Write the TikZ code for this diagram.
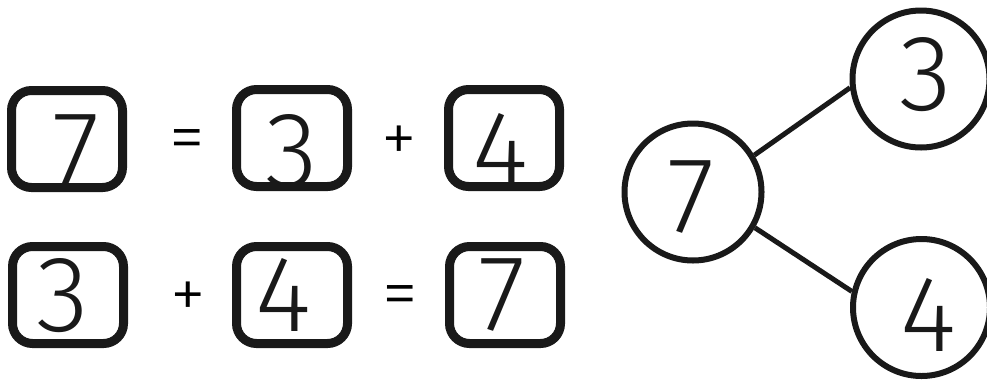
\documentclass[tikz,border=0pt]{standalone}
\usepackage{fontspec}
\newfontfamily\digfont{Fira Sans}[UprightFont={* Light}]
\begin{document}
\begin{tikzpicture}[x=1pt,y=-1pt,
  numbox/.style={draw=black!90, line width=9pt, rounded corners=20pt, minimum width=111pt, minimum height=97pt, inner sep=0pt},
  numcirc/.style={draw=black!90, circle, line width=6pt, minimum size=137pt, inner sep=0pt},
  digit/.style={inner sep=0pt, font=\digfont\fontsize{108}{108}\selectfont, text=black!90},
  sym/.style={inner sep=0pt, font=\digfont\fontsize{72}{72}\selectfont},
  link/.style={draw=black!90, line width=5pt}]
\useasboundingbox (0,0) rectangle (987,381);
% row 1
\node[numbox] (b11) at (67,139) {};
\node[numbox] (b12) at (292,138) {};
\node[numbox] (b13) at (504,138) {};
\node[digit] (d11) at (76,151) {7};
\node[digit] (d12) at (292,152) {3};
\node[digit] (d13) at (500,150) {4};
\node[sym] (e1) at (187,146) {=};
\node[sym] (p1) at (399,144) {+};
% row 2
\node[numbox] (b21) at (68,295) {};
\node[numbox] (b22) at (292,295) {};
\node[numbox] (b23) at (505,295) {};
\node[digit] (d21) at (63,296) {3};
\node[digit] (d22) at (283,295) {4};
\node[digit] (d23) at (502,295) {7};
\node[sym] (p2) at (188,300) {+};
\node[sym] (e2) at (400,302) {=};
% number bond
\node[numcirc] (c7) at (693,192) {};
\node[numcirc] (c3) at (921,79) {};
\node[numcirc] (c4) at (921.5,307.5) {};
\node[digit] (t7) at (691,197) {7};
\node[digit] (t3) at (926,75) {3};
\node[digit] (t4) at (928,315) {4};
\draw[link] (c7.31.7) -- (c3.187.5);
\draw[link] (c7.-30.7) -- (c4.167.7);
\end{tikzpicture}
\end{document}
